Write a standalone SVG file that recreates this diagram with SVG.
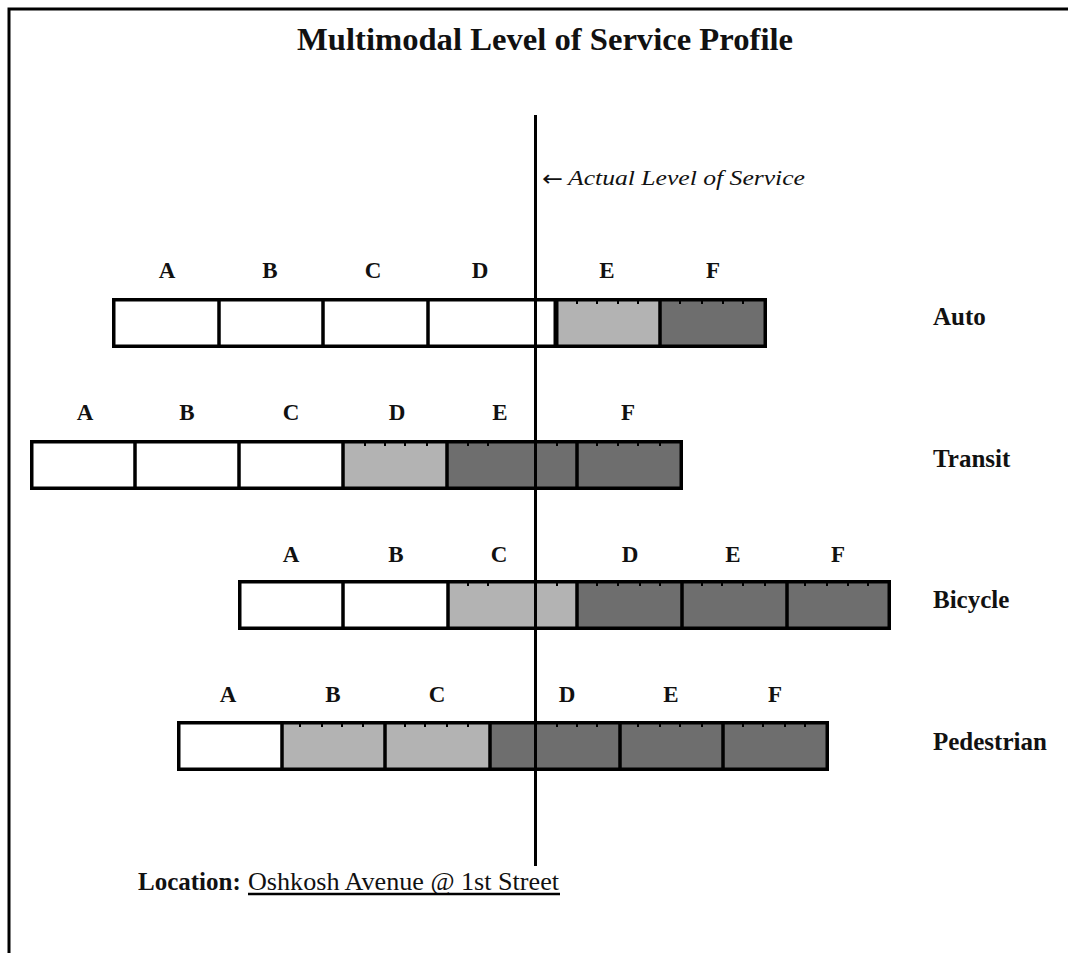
<svg xmlns="http://www.w3.org/2000/svg" width="1068" height="953" viewBox="0 0 1068 953">
<style>
.t{font-family:"Liberation Serif","Times New Roman",serif;fill:#111}
.b{font-weight:bold}
.lv{font-size:23px;font-weight:bold;text-anchor:middle}
.mode{font-size:25px;font-weight:bold}
.w{fill:#fff}
.l{fill:#b3b3b3}
.d{fill:#6e6e6e}
.ol{fill:none;stroke:#000;stroke-width:3.5}
.dv{stroke:#000;stroke-width:3.5}
.tk{stroke:#000;stroke-width:2}
</style>
<rect width="1068" height="953" fill="#fff"/>
<g id="frame">
<path d="M9 953 V9 H1068" fill="none" stroke="#000" stroke-width="3"/>
</g>
<text id="title" class="t b" x="545" y="50" font-size="32" text-anchor="middle" textLength="496" lengthAdjust="spacingAndGlyphs">Multimodal Level of Service Profile</text>

<g id="auto">
<rect class="w" x="112" y="298" width="444" height="50"/>
<rect class="l" x="556" y="298" width="104" height="50"/>
<rect class="d" x="660" y="298" width="107" height="50"/>
<path class="dv" d="M219 298V348M323 298V348M428 298V348M660 298V348"/>
<path stroke="#000" stroke-width="5" d="M556 298V348"/>
<path class="tk" d="M577 300v4M597 300v4M618 300v4M638 300v4M680 300v4M702 300v4M723 300v4M743 300v4"/>
<rect class="ol" x="113.75" y="299.75" width="651.5" height="46.5"/>
<g class="t lv"><text x="167" y="278">A</text><text x="270" y="278">B</text><text x="373" y="278">C</text><text x="480" y="278">D</text><text x="607" y="278">E</text><text x="713" y="278">F</text></g>
<text class="t mode" x="933" y="325">Auto</text>
</g>

<g id="transit">
<rect class="w" x="30" y="440" width="313" height="50"/>
<rect class="l" x="343" y="440" width="104" height="50"/>
<rect class="d" x="447" y="440" width="235" height="50"/>
<path class="dv" d="M135 440V490M239 440V490M343 440V490M447 440V490M577 440V490"/>
<path class="tk" d="M365 442v4M385 442v4M405 442v4M427 442v4M468 442v4M488 442v4M557 442v4M597 442v4M618 442v4M638 442v4M660 442v4"/>
<rect class="ol" x="31.75" y="441.75" width="649.5" height="46.5"/>
<g class="t lv"><text x="85" y="420">A</text><text x="187" y="420">B</text><text x="291" y="420">C</text><text x="397" y="420">D</text><text x="500" y="420">E</text><text x="628" y="420">F</text></g>
<text class="t mode" x="933" y="467">Transit</text>
</g>

<g id="bicycle">
<rect class="w" x="238" y="580" width="210" height="50"/>
<rect class="l" x="448" y="580" width="129" height="50"/>
<rect class="d" x="577" y="580" width="313" height="50"/>
<path class="dv" d="M343 580V630M448 580V630M577 580V630M682 580V630M787 580V630"/>
<path class="tk" d="M468 582v4M488 582v4M557 582v4M597 582v4M618 582v4M640 582v4M660 582v4M702 582v4M722 582v4M743 582v4M765 582v4M805 582v4M827 582v4M848 582v4M868 582v4"/>
<rect class="ol" x="239.75" y="581.75" width="649.5" height="46.5"/>
<g class="t lv"><text x="291" y="562">A</text><text x="396" y="562">B</text><text x="499" y="562">C</text><text x="630" y="562">D</text><text x="733" y="562">E</text><text x="838" y="562">F</text></g>
<text class="t mode" x="933" y="608">Bicycle</text>
</g>

<g id="pedestrian">
<rect class="w" x="177" y="721" width="105" height="50"/>
<rect class="l" x="282" y="721" width="208" height="50"/>
<rect class="d" x="490" y="721" width="338" height="50"/>
<path class="dv" d="M282 721V771M385 721V771M490 721V771M620 721V771M723 721V771"/>
<path class="tk" d="M300 723v4M322 723v4M342 723v4M363 723v4M405 723v4M425 723v4M447 723v4M468 723v4M557 723v4M577 723v4M597 723v4M638 723v4M660 723v4M680 723v4M702 723v4M743 723v4M763 723v4M785 723v4M805 723v4"/>
<rect class="ol" x="178.75" y="722.75" width="648.5" height="46.5"/>
<g class="t lv"><text x="228" y="702">A</text><text x="333" y="702">B</text><text x="437" y="702">C</text><text x="567" y="702">D</text><text x="671" y="702">E</text><text x="775" y="702">F</text></g>
<text class="t mode" x="933" y="750">Pedestrian</text>
</g>

<g id="connectors">
<line id="actual-los-line" x1="535.5" y1="115" x2="535.5" y2="866" stroke="#000" stroke-width="3"/>
</g>

<g id="actual-label">
<text x="542" y="186" font-size="22" font-family="DejaVu Sans" fill="#111" textLength="21" lengthAdjust="spacingAndGlyphs">←</text>
<text class="t" x="568" y="185" font-size="21" font-style="italic" textLength="237" lengthAdjust="spacingAndGlyphs">Actual Level of Service</text>
</g>

<g id="location">
<text class="t b" x="138" y="890" font-size="25">Location:</text>
<text class="t" x="248" y="890" font-size="25" textLength="311" lengthAdjust="spacingAndGlyphs">Oshkosh Avenue @ 1st Street</text>
<line x1="248" y1="894" x2="560" y2="894" stroke="#000" stroke-width="2.5"/>
</g>
</svg>
